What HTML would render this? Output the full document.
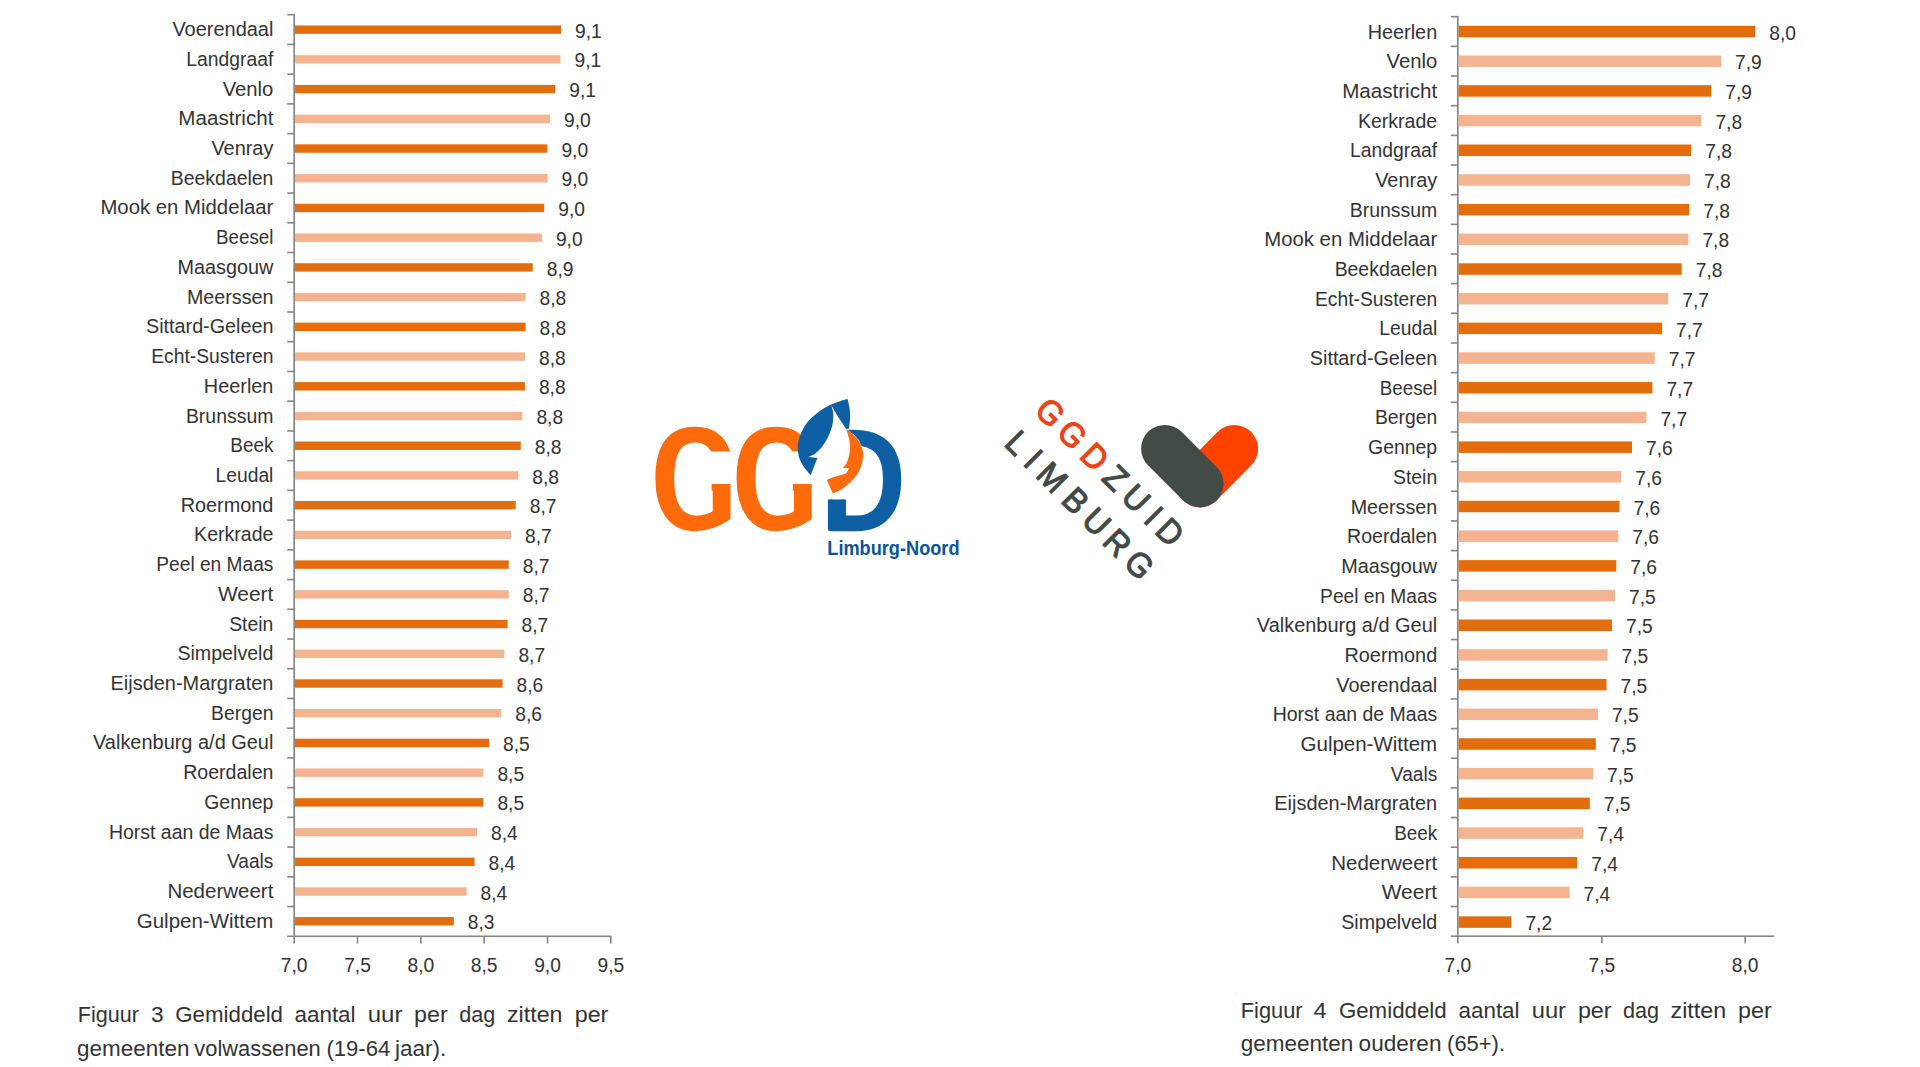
<!DOCTYPE html>
<html lang="nl"><head><meta charset="utf-8"><title>Figuur 3 en 4 - Gemiddeld aantal uur per dag zitten per gemeenten</title>
<style>
html,body{margin:0;padding:0;background:#fff;}
body{width:1920px;height:1067px;overflow:hidden;font-family:"Liberation Sans",sans-serif;}
svg{display:block;}
text{white-space:pre;}
</style></head><body>
<svg width="1920" height="1067" viewBox="0 0 1920 1067">
<rect width="1920" height="1067" fill="#ffffff"/>
<g font-family="'Liberation Sans', sans-serif" fill="#333333">
<g fill="#868686">
<rect x="293.35" y="13.9" width="1.7" height="923.2"/>
<rect x="287.2" y="935.5" width="324.4" height="1.6"/>
<rect x="287.2" y="13.9" width="7" height="1.6"/>
<rect x="287.2" y="43.63" width="7" height="1.6"/>
<rect x="287.2" y="73.36" width="7" height="1.6"/>
<rect x="287.2" y="103.09" width="7" height="1.6"/>
<rect x="287.2" y="132.82" width="7" height="1.6"/>
<rect x="287.2" y="162.55" width="7" height="1.6"/>
<rect x="287.2" y="192.27" width="7" height="1.6"/>
<rect x="287.2" y="222" width="7" height="1.6"/>
<rect x="287.2" y="251.73" width="7" height="1.6"/>
<rect x="287.2" y="281.46" width="7" height="1.6"/>
<rect x="287.2" y="311.19" width="7" height="1.6"/>
<rect x="287.2" y="340.92" width="7" height="1.6"/>
<rect x="287.2" y="370.65" width="7" height="1.6"/>
<rect x="287.2" y="400.38" width="7" height="1.6"/>
<rect x="287.2" y="430.11" width="7" height="1.6"/>
<rect x="287.2" y="459.84" width="7" height="1.6"/>
<rect x="287.2" y="489.56" width="7" height="1.6"/>
<rect x="287.2" y="519.29" width="7" height="1.6"/>
<rect x="287.2" y="549.02" width="7" height="1.6"/>
<rect x="287.2" y="578.75" width="7" height="1.6"/>
<rect x="287.2" y="608.48" width="7" height="1.6"/>
<rect x="287.2" y="638.21" width="7" height="1.6"/>
<rect x="287.2" y="667.94" width="7" height="1.6"/>
<rect x="287.2" y="697.67" width="7" height="1.6"/>
<rect x="287.2" y="727.4" width="7" height="1.6"/>
<rect x="287.2" y="757.13" width="7" height="1.6"/>
<rect x="287.2" y="786.85" width="7" height="1.6"/>
<rect x="287.2" y="816.58" width="7" height="1.6"/>
<rect x="287.2" y="846.31" width="7" height="1.6"/>
<rect x="287.2" y="876.04" width="7" height="1.6"/>
<rect x="287.2" y="905.77" width="7" height="1.6"/>
<rect x="293.4" y="936.3" width="1.6" height="7.2"/>
<rect x="356.7" y="936.3" width="1.6" height="7.2"/>
<rect x="420" y="936.3" width="1.6" height="7.2"/>
<rect x="483.3" y="936.3" width="1.6" height="7.2"/>
<rect x="546.7" y="936.3" width="1.6" height="7.2"/>
<rect x="610" y="936.3" width="1.6" height="7.2"/>
</g>
<rect x="295.05" y="25.45" width="266.05" height="8.4" fill="#E36C0C"/>
<rect x="295.05" y="55.17" width="265.45" height="8.4" fill="#F4B490"/>
<rect x="295.05" y="84.89" width="260.25" height="8.4" fill="#E36C0C"/>
<rect x="295.05" y="114.61" width="254.95" height="8.4" fill="#F4B490"/>
<rect x="295.05" y="144.33" width="252.35" height="8.4" fill="#E36C0C"/>
<rect x="295.05" y="174.05" width="252.55" height="8.4" fill="#F4B490"/>
<rect x="295.05" y="203.77" width="249.15" height="8.4" fill="#E36C0C"/>
<rect x="295.05" y="233.49" width="246.85" height="8.4" fill="#F4B490"/>
<rect x="295.05" y="263.21" width="237.7" height="8.4" fill="#E36C0C"/>
<rect x="295.05" y="292.93" width="230.55" height="8.4" fill="#F4B490"/>
<rect x="295.05" y="322.65" width="230.55" height="8.4" fill="#E36C0C"/>
<rect x="295.05" y="352.37" width="230.05" height="8.4" fill="#F4B490"/>
<rect x="295.05" y="382.09" width="229.85" height="8.4" fill="#E36C0C"/>
<rect x="295.05" y="411.81" width="227.35" height="8.4" fill="#F4B490"/>
<rect x="295.05" y="441.53" width="225.7" height="8.4" fill="#E36C0C"/>
<rect x="295.05" y="471.25" width="223.25" height="8.4" fill="#F4B490"/>
<rect x="295.05" y="500.97" width="220.65" height="8.4" fill="#E36C0C"/>
<rect x="295.05" y="530.69" width="215.95" height="8.4" fill="#F4B490"/>
<rect x="295.05" y="560.41" width="213.7" height="8.4" fill="#E36C0C"/>
<rect x="295.05" y="590.13" width="213.7" height="8.4" fill="#F4B490"/>
<rect x="295.05" y="619.85" width="212.55" height="8.4" fill="#E36C0C"/>
<rect x="295.05" y="649.57" width="209.35" height="8.4" fill="#F4B490"/>
<rect x="295.05" y="679.29" width="207.55" height="8.4" fill="#E36C0C"/>
<rect x="295.05" y="709.01" width="206.2" height="8.4" fill="#F4B490"/>
<rect x="295.05" y="738.73" width="194.05" height="8.4" fill="#E36C0C"/>
<rect x="295.05" y="768.45" width="188.35" height="8.4" fill="#F4B490"/>
<rect x="295.05" y="798.17" width="188.35" height="8.4" fill="#E36C0C"/>
<rect x="295.05" y="827.89" width="182.05" height="8.4" fill="#F4B490"/>
<rect x="295.05" y="857.61" width="179.55" height="8.4" fill="#E36C0C"/>
<rect x="295.05" y="887.33" width="171.55" height="8.4" fill="#F4B490"/>
<rect x="295.05" y="917.05" width="158.75" height="8.4" fill="#E36C0C"/>
<text x="273.4" y="36.15" text-anchor="end" textLength="101.02" lengthAdjust="spacingAndGlyphs" font-size="20.5">Voerendaal</text>
<text x="273.4" y="65.87" text-anchor="end" textLength="87.11" lengthAdjust="spacingAndGlyphs" font-size="20.5">Landgraaf</text>
<text x="273.4" y="95.59" text-anchor="end" textLength="50.7" lengthAdjust="spacingAndGlyphs" font-size="20.5">Venlo</text>
<text x="273.4" y="125.31" text-anchor="end" textLength="95.05" lengthAdjust="spacingAndGlyphs" font-size="20.5">Maastricht</text>
<text x="273.4" y="155.03" text-anchor="end" textLength="62.01" lengthAdjust="spacingAndGlyphs" font-size="20.5">Venray</text>
<text x="273.4" y="184.75" text-anchor="end" textLength="102.56" lengthAdjust="spacingAndGlyphs" font-size="20.5">Beekdaelen</text>
<text x="273.4" y="214.47" text-anchor="end" textLength="172.98" lengthAdjust="spacingAndGlyphs" font-size="20.5">Mook en Middelaar</text>
<text x="273.4" y="244.19" text-anchor="end" textLength="57.4" lengthAdjust="spacingAndGlyphs" font-size="20.5">Beesel</text>
<text x="273.4" y="273.91" text-anchor="end" textLength="95.96" lengthAdjust="spacingAndGlyphs" font-size="20.5">Maasgouw</text>
<text x="273.4" y="303.63" text-anchor="end" textLength="86.48" lengthAdjust="spacingAndGlyphs" font-size="20.5">Meerssen</text>
<text x="273.4" y="333.35" text-anchor="end" textLength="127.36" lengthAdjust="spacingAndGlyphs" font-size="20.5">Sittard-Geleen</text>
<text x="273.4" y="363.07" text-anchor="end" textLength="122.21" lengthAdjust="spacingAndGlyphs" font-size="20.5">Echt-Susteren</text>
<text x="273.4" y="392.79" text-anchor="end" textLength="69.54" lengthAdjust="spacingAndGlyphs" font-size="20.5">Heerlen</text>
<text x="273.4" y="422.51" text-anchor="end" textLength="87.48" lengthAdjust="spacingAndGlyphs" font-size="20.5">Brunssum</text>
<text x="273.4" y="452.23" text-anchor="end" textLength="43.06" lengthAdjust="spacingAndGlyphs" font-size="20.5">Beek</text>
<text x="273.4" y="481.95" text-anchor="end" textLength="57.83" lengthAdjust="spacingAndGlyphs" font-size="20.5">Leudal</text>
<text x="273.4" y="511.67" text-anchor="end" textLength="92.74" lengthAdjust="spacingAndGlyphs" font-size="20.5">Roermond</text>
<text x="273.4" y="541.39" text-anchor="end" textLength="79.29" lengthAdjust="spacingAndGlyphs" font-size="20.5">Kerkrade</text>
<text x="273.4" y="571.11" text-anchor="end" textLength="117.08" lengthAdjust="spacingAndGlyphs" font-size="20.5">Peel en Maas</text>
<text x="273.4" y="600.83" text-anchor="end" textLength="55.48" lengthAdjust="spacingAndGlyphs" font-size="20.5">Weert</text>
<text x="273.4" y="630.55" text-anchor="end" textLength="44.21" lengthAdjust="spacingAndGlyphs" font-size="20.5">Stein</text>
<text x="273.4" y="660.27" text-anchor="end" textLength="96" lengthAdjust="spacingAndGlyphs" font-size="20.5">Simpelveld</text>
<text x="273.4" y="689.99" text-anchor="end" textLength="162.9" lengthAdjust="spacingAndGlyphs" font-size="20.5">Eijsden-Margraten</text>
<text x="273.4" y="719.71" text-anchor="end" textLength="62.29" lengthAdjust="spacingAndGlyphs" font-size="20.5">Bergen</text>
<text x="273.4" y="749.43" text-anchor="end" textLength="180.35" lengthAdjust="spacingAndGlyphs" font-size="20.5">Valkenburg a/d Geul</text>
<text x="273.4" y="779.15" text-anchor="end" textLength="90.14" lengthAdjust="spacingAndGlyphs" font-size="20.5">Roerdalen</text>
<text x="273.4" y="808.87" text-anchor="end" textLength="69.17" lengthAdjust="spacingAndGlyphs" font-size="20.5">Gennep</text>
<text x="273.4" y="838.59" text-anchor="end" textLength="164.46" lengthAdjust="spacingAndGlyphs" font-size="20.5">Horst aan de Maas</text>
<text x="273.4" y="868.31" text-anchor="end" textLength="46.35" lengthAdjust="spacingAndGlyphs" font-size="20.5">Vaals</text>
<text x="273.4" y="898.03" text-anchor="end" textLength="106.02" lengthAdjust="spacingAndGlyphs" font-size="20.5">Nederweert</text>
<text x="273.4" y="927.75" text-anchor="end" textLength="136.63" lengthAdjust="spacingAndGlyphs" font-size="20.5">Gulpen-Wittem</text>
<text x="575.1" y="37.75" text-anchor="start" textLength="26.72" lengthAdjust="spacingAndGlyphs" font-size="20.5">9,1</text>
<text x="574.5" y="67.47" text-anchor="start" textLength="26.72" lengthAdjust="spacingAndGlyphs" font-size="20.5">9,1</text>
<text x="569.3" y="97.19" text-anchor="start" textLength="26.72" lengthAdjust="spacingAndGlyphs" font-size="20.5">9,1</text>
<text x="564" y="126.91" text-anchor="start" textLength="26.72" lengthAdjust="spacingAndGlyphs" font-size="20.5">9,0</text>
<text x="561.4" y="156.63" text-anchor="start" textLength="26.72" lengthAdjust="spacingAndGlyphs" font-size="20.5">9,0</text>
<text x="561.6" y="186.35" text-anchor="start" textLength="26.72" lengthAdjust="spacingAndGlyphs" font-size="20.5">9,0</text>
<text x="558.2" y="216.07" text-anchor="start" textLength="26.72" lengthAdjust="spacingAndGlyphs" font-size="20.5">9,0</text>
<text x="555.9" y="245.79" text-anchor="start" textLength="26.72" lengthAdjust="spacingAndGlyphs" font-size="20.5">9,0</text>
<text x="546.75" y="275.51" text-anchor="start" textLength="26.72" lengthAdjust="spacingAndGlyphs" font-size="20.5">8,9</text>
<text x="539.6" y="305.23" text-anchor="start" textLength="26.72" lengthAdjust="spacingAndGlyphs" font-size="20.5">8,8</text>
<text x="539.6" y="334.95" text-anchor="start" textLength="26.72" lengthAdjust="spacingAndGlyphs" font-size="20.5">8,8</text>
<text x="539.1" y="364.67" text-anchor="start" textLength="26.72" lengthAdjust="spacingAndGlyphs" font-size="20.5">8,8</text>
<text x="538.9" y="394.39" text-anchor="start" textLength="26.72" lengthAdjust="spacingAndGlyphs" font-size="20.5">8,8</text>
<text x="536.4" y="424.11" text-anchor="start" textLength="26.72" lengthAdjust="spacingAndGlyphs" font-size="20.5">8,8</text>
<text x="534.75" y="453.83" text-anchor="start" textLength="26.72" lengthAdjust="spacingAndGlyphs" font-size="20.5">8,8</text>
<text x="532.3" y="483.55" text-anchor="start" textLength="26.72" lengthAdjust="spacingAndGlyphs" font-size="20.5">8,8</text>
<text x="529.7" y="513.27" text-anchor="start" textLength="26.72" lengthAdjust="spacingAndGlyphs" font-size="20.5">8,7</text>
<text x="525" y="542.99" text-anchor="start" textLength="26.72" lengthAdjust="spacingAndGlyphs" font-size="20.5">8,7</text>
<text x="522.75" y="572.71" text-anchor="start" textLength="26.72" lengthAdjust="spacingAndGlyphs" font-size="20.5">8,7</text>
<text x="522.75" y="602.43" text-anchor="start" textLength="26.72" lengthAdjust="spacingAndGlyphs" font-size="20.5">8,7</text>
<text x="521.6" y="632.15" text-anchor="start" textLength="26.72" lengthAdjust="spacingAndGlyphs" font-size="20.5">8,7</text>
<text x="518.4" y="661.87" text-anchor="start" textLength="26.72" lengthAdjust="spacingAndGlyphs" font-size="20.5">8,7</text>
<text x="516.6" y="691.59" text-anchor="start" textLength="26.72" lengthAdjust="spacingAndGlyphs" font-size="20.5">8,6</text>
<text x="515.25" y="721.31" text-anchor="start" textLength="26.72" lengthAdjust="spacingAndGlyphs" font-size="20.5">8,6</text>
<text x="503.1" y="751.03" text-anchor="start" textLength="26.72" lengthAdjust="spacingAndGlyphs" font-size="20.5">8,5</text>
<text x="497.4" y="780.75" text-anchor="start" textLength="26.72" lengthAdjust="spacingAndGlyphs" font-size="20.5">8,5</text>
<text x="497.4" y="810.47" text-anchor="start" textLength="26.72" lengthAdjust="spacingAndGlyphs" font-size="20.5">8,5</text>
<text x="491.1" y="840.19" text-anchor="start" textLength="26.72" lengthAdjust="spacingAndGlyphs" font-size="20.5">8,4</text>
<text x="488.6" y="869.91" text-anchor="start" textLength="26.72" lengthAdjust="spacingAndGlyphs" font-size="20.5">8,4</text>
<text x="480.6" y="899.63" text-anchor="start" textLength="26.72" lengthAdjust="spacingAndGlyphs" font-size="20.5">8,4</text>
<text x="467.8" y="929.35" text-anchor="start" textLength="26.72" lengthAdjust="spacingAndGlyphs" font-size="20.5">8,3</text>
<text x="294.2" y="971.6" text-anchor="middle" textLength="26.72" lengthAdjust="spacingAndGlyphs" font-size="20.5">7,0</text>
<text x="357.5" y="971.6" text-anchor="middle" textLength="26.72" lengthAdjust="spacingAndGlyphs" font-size="20.5">7,5</text>
<text x="420.8" y="971.6" text-anchor="middle" textLength="26.72" lengthAdjust="spacingAndGlyphs" font-size="20.5">8,0</text>
<text x="484.1" y="971.6" text-anchor="middle" textLength="26.72" lengthAdjust="spacingAndGlyphs" font-size="20.5">8,5</text>
<text x="547.5" y="971.6" text-anchor="middle" textLength="26.72" lengthAdjust="spacingAndGlyphs" font-size="20.5">9,0</text>
<text x="610.8" y="971.6" text-anchor="middle" textLength="26.72" lengthAdjust="spacingAndGlyphs" font-size="20.5">9,5</text>
<g fill="#868686">
<rect x="1456.95" y="15.9" width="1.7" height="921.1"/>
<rect x="1450.8" y="935.4" width="323.4" height="1.6"/>
<rect x="1450.8" y="15.9" width="7" height="1.6"/>
<rect x="1450.8" y="45.56" width="7" height="1.6"/>
<rect x="1450.8" y="75.22" width="7" height="1.6"/>
<rect x="1450.8" y="104.88" width="7" height="1.6"/>
<rect x="1450.8" y="134.55" width="7" height="1.6"/>
<rect x="1450.8" y="164.21" width="7" height="1.6"/>
<rect x="1450.8" y="193.87" width="7" height="1.6"/>
<rect x="1450.8" y="223.53" width="7" height="1.6"/>
<rect x="1450.8" y="253.19" width="7" height="1.6"/>
<rect x="1450.8" y="282.85" width="7" height="1.6"/>
<rect x="1450.8" y="312.51" width="7" height="1.6"/>
<rect x="1450.8" y="342.17" width="7" height="1.6"/>
<rect x="1450.8" y="371.84" width="7" height="1.6"/>
<rect x="1450.8" y="401.5" width="7" height="1.6"/>
<rect x="1450.8" y="431.16" width="7" height="1.6"/>
<rect x="1450.8" y="460.82" width="7" height="1.6"/>
<rect x="1450.8" y="490.48" width="7" height="1.6"/>
<rect x="1450.8" y="520.14" width="7" height="1.6"/>
<rect x="1450.8" y="549.8" width="7" height="1.6"/>
<rect x="1450.8" y="579.46" width="7" height="1.6"/>
<rect x="1450.8" y="609.13" width="7" height="1.6"/>
<rect x="1450.8" y="638.79" width="7" height="1.6"/>
<rect x="1450.8" y="668.45" width="7" height="1.6"/>
<rect x="1450.8" y="698.11" width="7" height="1.6"/>
<rect x="1450.8" y="727.77" width="7" height="1.6"/>
<rect x="1450.8" y="757.43" width="7" height="1.6"/>
<rect x="1450.8" y="787.09" width="7" height="1.6"/>
<rect x="1450.8" y="816.75" width="7" height="1.6"/>
<rect x="1450.8" y="846.42" width="7" height="1.6"/>
<rect x="1450.8" y="876.08" width="7" height="1.6"/>
<rect x="1450.8" y="905.74" width="7" height="1.6"/>
<rect x="1457" y="936.2" width="1.6" height="7.2"/>
<rect x="1601.1" y="936.2" width="1.6" height="7.2"/>
<rect x="1744.4" y="936.2" width="1.6" height="7.2"/>
</g>
<rect x="1458.65" y="25.8" width="296.65" height="11.5" fill="#E36C0C"/>
<rect x="1458.65" y="55.48" width="262.35" height="11.5" fill="#F4B490"/>
<rect x="1458.65" y="85.17" width="252.65" height="11.5" fill="#E36C0C"/>
<rect x="1458.65" y="114.85" width="242.75" height="11.5" fill="#F4B490"/>
<rect x="1458.65" y="144.54" width="232.55" height="11.5" fill="#E36C0C"/>
<rect x="1458.65" y="174.22" width="231.35" height="11.5" fill="#F4B490"/>
<rect x="1458.65" y="203.91" width="230.55" height="11.5" fill="#E36C0C"/>
<rect x="1458.65" y="233.59" width="229.75" height="11.5" fill="#F4B490"/>
<rect x="1458.65" y="263.28" width="223.05" height="11.5" fill="#E36C0C"/>
<rect x="1458.65" y="292.96" width="209.55" height="11.5" fill="#F4B490"/>
<rect x="1458.65" y="322.65" width="203.45" height="11.5" fill="#E36C0C"/>
<rect x="1458.65" y="352.33" width="196.05" height="11.5" fill="#F4B490"/>
<rect x="1458.65" y="382.02" width="193.75" height="11.5" fill="#E36C0C"/>
<rect x="1458.65" y="411.7" width="187.75" height="11.5" fill="#F4B490"/>
<rect x="1458.65" y="441.39" width="173.35" height="11.5" fill="#E36C0C"/>
<rect x="1458.65" y="471.07" width="162.65" height="11.5" fill="#F4B490"/>
<rect x="1458.65" y="500.76" width="160.85" height="11.5" fill="#E36C0C"/>
<rect x="1458.65" y="530.44" width="159.65" height="11.5" fill="#F4B490"/>
<rect x="1458.65" y="560.13" width="157.65" height="11.5" fill="#E36C0C"/>
<rect x="1458.65" y="589.81" width="156.35" height="11.5" fill="#F4B490"/>
<rect x="1458.65" y="619.5" width="153.35" height="11.5" fill="#E36C0C"/>
<rect x="1458.65" y="649.18" width="148.95" height="11.5" fill="#F4B490"/>
<rect x="1458.65" y="678.87" width="147.85" height="11.5" fill="#E36C0C"/>
<rect x="1458.65" y="708.55" width="139.25" height="11.5" fill="#F4B490"/>
<rect x="1458.65" y="738.24" width="137.15" height="11.5" fill="#E36C0C"/>
<rect x="1458.65" y="767.92" width="134.35" height="11.5" fill="#F4B490"/>
<rect x="1458.65" y="797.61" width="131.15" height="11.5" fill="#E36C0C"/>
<rect x="1458.65" y="827.29" width="124.65" height="11.5" fill="#F4B490"/>
<rect x="1458.65" y="856.98" width="118.55" height="11.5" fill="#E36C0C"/>
<rect x="1458.65" y="886.66" width="110.95" height="11.5" fill="#F4B490"/>
<rect x="1458.65" y="916.35" width="52.75" height="11.5" fill="#E36C0C"/>
<text x="1437.2" y="38.55" text-anchor="end" textLength="69.54" lengthAdjust="spacingAndGlyphs" font-size="20.5">Heerlen</text>
<text x="1437.2" y="68.23" text-anchor="end" textLength="50.7" lengthAdjust="spacingAndGlyphs" font-size="20.5">Venlo</text>
<text x="1437.2" y="97.92" text-anchor="end" textLength="95.05" lengthAdjust="spacingAndGlyphs" font-size="20.5">Maastricht</text>
<text x="1437.2" y="127.6" text-anchor="end" textLength="79.29" lengthAdjust="spacingAndGlyphs" font-size="20.5">Kerkrade</text>
<text x="1437.2" y="157.29" text-anchor="end" textLength="87.11" lengthAdjust="spacingAndGlyphs" font-size="20.5">Landgraaf</text>
<text x="1437.2" y="186.97" text-anchor="end" textLength="62.01" lengthAdjust="spacingAndGlyphs" font-size="20.5">Venray</text>
<text x="1437.2" y="216.66" text-anchor="end" textLength="87.48" lengthAdjust="spacingAndGlyphs" font-size="20.5">Brunssum</text>
<text x="1437.2" y="246.34" text-anchor="end" textLength="172.98" lengthAdjust="spacingAndGlyphs" font-size="20.5">Mook en Middelaar</text>
<text x="1437.2" y="276.03" text-anchor="end" textLength="102.56" lengthAdjust="spacingAndGlyphs" font-size="20.5">Beekdaelen</text>
<text x="1437.2" y="305.71" text-anchor="end" textLength="122.21" lengthAdjust="spacingAndGlyphs" font-size="20.5">Echt-Susteren</text>
<text x="1437.2" y="335.4" text-anchor="end" textLength="57.83" lengthAdjust="spacingAndGlyphs" font-size="20.5">Leudal</text>
<text x="1437.2" y="365.08" text-anchor="end" textLength="127.36" lengthAdjust="spacingAndGlyphs" font-size="20.5">Sittard-Geleen</text>
<text x="1437.2" y="394.77" text-anchor="end" textLength="57.4" lengthAdjust="spacingAndGlyphs" font-size="20.5">Beesel</text>
<text x="1437.2" y="424.45" text-anchor="end" textLength="62.29" lengthAdjust="spacingAndGlyphs" font-size="20.5">Bergen</text>
<text x="1437.2" y="454.14" text-anchor="end" textLength="69.17" lengthAdjust="spacingAndGlyphs" font-size="20.5">Gennep</text>
<text x="1437.2" y="483.82" text-anchor="end" textLength="44.21" lengthAdjust="spacingAndGlyphs" font-size="20.5">Stein</text>
<text x="1437.2" y="513.51" text-anchor="end" textLength="86.48" lengthAdjust="spacingAndGlyphs" font-size="20.5">Meerssen</text>
<text x="1437.2" y="543.19" text-anchor="end" textLength="90.14" lengthAdjust="spacingAndGlyphs" font-size="20.5">Roerdalen</text>
<text x="1437.2" y="572.88" text-anchor="end" textLength="95.96" lengthAdjust="spacingAndGlyphs" font-size="20.5">Maasgouw</text>
<text x="1437.2" y="602.56" text-anchor="end" textLength="117.08" lengthAdjust="spacingAndGlyphs" font-size="20.5">Peel en Maas</text>
<text x="1437.2" y="632.25" text-anchor="end" textLength="180.35" lengthAdjust="spacingAndGlyphs" font-size="20.5">Valkenburg a/d Geul</text>
<text x="1437.2" y="661.93" text-anchor="end" textLength="92.74" lengthAdjust="spacingAndGlyphs" font-size="20.5">Roermond</text>
<text x="1437.2" y="691.62" text-anchor="end" textLength="101.02" lengthAdjust="spacingAndGlyphs" font-size="20.5">Voerendaal</text>
<text x="1437.2" y="721.3" text-anchor="end" textLength="164.46" lengthAdjust="spacingAndGlyphs" font-size="20.5">Horst aan de Maas</text>
<text x="1437.2" y="750.99" text-anchor="end" textLength="136.63" lengthAdjust="spacingAndGlyphs" font-size="20.5">Gulpen-Wittem</text>
<text x="1437.2" y="780.67" text-anchor="end" textLength="46.35" lengthAdjust="spacingAndGlyphs" font-size="20.5">Vaals</text>
<text x="1437.2" y="810.36" text-anchor="end" textLength="162.9" lengthAdjust="spacingAndGlyphs" font-size="20.5">Eijsden-Margraten</text>
<text x="1437.2" y="840.04" text-anchor="end" textLength="43.06" lengthAdjust="spacingAndGlyphs" font-size="20.5">Beek</text>
<text x="1437.2" y="869.73" text-anchor="end" textLength="106.02" lengthAdjust="spacingAndGlyphs" font-size="20.5">Nederweert</text>
<text x="1437.2" y="899.41" text-anchor="end" textLength="55.48" lengthAdjust="spacingAndGlyphs" font-size="20.5">Weert</text>
<text x="1437.2" y="929.1" text-anchor="end" textLength="96" lengthAdjust="spacingAndGlyphs" font-size="20.5">Simpelveld</text>
<text x="1769.3" y="39.65" text-anchor="start" textLength="26.72" lengthAdjust="spacingAndGlyphs" font-size="20.5">8,0</text>
<text x="1735" y="69.33" text-anchor="start" textLength="26.72" lengthAdjust="spacingAndGlyphs" font-size="20.5">7,9</text>
<text x="1725.3" y="99.02" text-anchor="start" textLength="26.72" lengthAdjust="spacingAndGlyphs" font-size="20.5">7,9</text>
<text x="1715.4" y="128.7" text-anchor="start" textLength="26.72" lengthAdjust="spacingAndGlyphs" font-size="20.5">7,8</text>
<text x="1705.2" y="158.39" text-anchor="start" textLength="26.72" lengthAdjust="spacingAndGlyphs" font-size="20.5">7,8</text>
<text x="1704" y="188.07" text-anchor="start" textLength="26.72" lengthAdjust="spacingAndGlyphs" font-size="20.5">7,8</text>
<text x="1703.2" y="217.76" text-anchor="start" textLength="26.72" lengthAdjust="spacingAndGlyphs" font-size="20.5">7,8</text>
<text x="1702.4" y="247.44" text-anchor="start" textLength="26.72" lengthAdjust="spacingAndGlyphs" font-size="20.5">7,8</text>
<text x="1695.7" y="277.13" text-anchor="start" textLength="26.72" lengthAdjust="spacingAndGlyphs" font-size="20.5">7,8</text>
<text x="1682.2" y="306.81" text-anchor="start" textLength="26.72" lengthAdjust="spacingAndGlyphs" font-size="20.5">7,7</text>
<text x="1676.1" y="336.5" text-anchor="start" textLength="26.72" lengthAdjust="spacingAndGlyphs" font-size="20.5">7,7</text>
<text x="1668.7" y="366.19" text-anchor="start" textLength="26.72" lengthAdjust="spacingAndGlyphs" font-size="20.5">7,7</text>
<text x="1666.4" y="395.87" text-anchor="start" textLength="26.72" lengthAdjust="spacingAndGlyphs" font-size="20.5">7,7</text>
<text x="1660.4" y="425.56" text-anchor="start" textLength="26.72" lengthAdjust="spacingAndGlyphs" font-size="20.5">7,7</text>
<text x="1646" y="455.24" text-anchor="start" textLength="26.72" lengthAdjust="spacingAndGlyphs" font-size="20.5">7,6</text>
<text x="1635.3" y="484.93" text-anchor="start" textLength="26.72" lengthAdjust="spacingAndGlyphs" font-size="20.5">7,6</text>
<text x="1633.5" y="514.61" text-anchor="start" textLength="26.72" lengthAdjust="spacingAndGlyphs" font-size="20.5">7,6</text>
<text x="1632.3" y="544.29" text-anchor="start" textLength="26.72" lengthAdjust="spacingAndGlyphs" font-size="20.5">7,6</text>
<text x="1630.3" y="573.98" text-anchor="start" textLength="26.72" lengthAdjust="spacingAndGlyphs" font-size="20.5">7,6</text>
<text x="1629" y="603.66" text-anchor="start" textLength="26.72" lengthAdjust="spacingAndGlyphs" font-size="20.5">7,5</text>
<text x="1626" y="633.35" text-anchor="start" textLength="26.72" lengthAdjust="spacingAndGlyphs" font-size="20.5">7,5</text>
<text x="1621.6" y="663.03" text-anchor="start" textLength="26.72" lengthAdjust="spacingAndGlyphs" font-size="20.5">7,5</text>
<text x="1620.5" y="692.72" text-anchor="start" textLength="26.72" lengthAdjust="spacingAndGlyphs" font-size="20.5">7,5</text>
<text x="1611.9" y="722.4" text-anchor="start" textLength="26.72" lengthAdjust="spacingAndGlyphs" font-size="20.5">7,5</text>
<text x="1609.8" y="752.09" text-anchor="start" textLength="26.72" lengthAdjust="spacingAndGlyphs" font-size="20.5">7,5</text>
<text x="1607" y="781.77" text-anchor="start" textLength="26.72" lengthAdjust="spacingAndGlyphs" font-size="20.5">7,5</text>
<text x="1603.8" y="811.46" text-anchor="start" textLength="26.72" lengthAdjust="spacingAndGlyphs" font-size="20.5">7,5</text>
<text x="1597.3" y="841.14" text-anchor="start" textLength="26.72" lengthAdjust="spacingAndGlyphs" font-size="20.5">7,4</text>
<text x="1591.2" y="870.83" text-anchor="start" textLength="26.72" lengthAdjust="spacingAndGlyphs" font-size="20.5">7,4</text>
<text x="1583.6" y="900.51" text-anchor="start" textLength="26.72" lengthAdjust="spacingAndGlyphs" font-size="20.5">7,4</text>
<text x="1525.4" y="930.2" text-anchor="start" textLength="26.72" lengthAdjust="spacingAndGlyphs" font-size="20.5">7,2</text>
<text x="1457.8" y="972.3" text-anchor="middle" textLength="26.72" lengthAdjust="spacingAndGlyphs" font-size="20.5">7,0</text>
<text x="1601.9" y="972.3" text-anchor="middle" textLength="26.72" lengthAdjust="spacingAndGlyphs" font-size="20.5">7,5</text>
<text x="1745.2" y="972.3" text-anchor="middle" textLength="26.72" lengthAdjust="spacingAndGlyphs" font-size="20.5">8,0</text>
<text x="77.7" y="1021.8" textLength="61.2" lengthAdjust="spacingAndGlyphs" font-size="22.2">Figuur</text>
<text x="151.1" y="1021.8" textLength="12.6" lengthAdjust="spacingAndGlyphs" font-size="22.2">3</text>
<text x="175.3" y="1021.8" textLength="107.7" lengthAdjust="spacingAndGlyphs" font-size="22.2">Gemiddeld</text>
<text x="294.6" y="1021.8" textLength="60.9" lengthAdjust="spacingAndGlyphs" font-size="22.2">aantal</text>
<text x="367.7" y="1021.8" textLength="34.7" lengthAdjust="spacingAndGlyphs" font-size="22.2">uur</text>
<text x="414" y="1021.8" textLength="33.7" lengthAdjust="spacingAndGlyphs" font-size="22.2">per</text>
<text x="459.3" y="1021.8" textLength="36.1" lengthAdjust="spacingAndGlyphs" font-size="22.2">dag</text>
<text x="507" y="1021.8" textLength="55.5" lengthAdjust="spacingAndGlyphs" font-size="22.2">zitten</text>
<text x="574.7" y="1021.8" textLength="33.7" lengthAdjust="spacingAndGlyphs" font-size="22.2">per</text>
<text x="77.1" y="1055.7" textLength="112.3" lengthAdjust="spacingAndGlyphs" font-size="22.2">gemeenten</text>
<text x="194.3" y="1055.7" textLength="126.5" lengthAdjust="spacingAndGlyphs" font-size="22.2">volwassenen</text>
<text x="326.4" y="1055.7" textLength="63.9" lengthAdjust="spacingAndGlyphs" font-size="22.2">(19-64</text>
<text x="394.9" y="1055.7" textLength="51.3" lengthAdjust="spacingAndGlyphs" font-size="22.2">jaar).</text>
<text x="1240.75" y="1017.6" textLength="61.85" lengthAdjust="spacingAndGlyphs" font-size="22.2">Figuur</text>
<text x="1313.6" y="1017.6" textLength="13.1" lengthAdjust="spacingAndGlyphs" font-size="22.2">4</text>
<text x="1338.9" y="1017.6" textLength="107.8" lengthAdjust="spacingAndGlyphs" font-size="22.2">Gemiddeld</text>
<text x="1458.6" y="1017.6" textLength="60.9" lengthAdjust="spacingAndGlyphs" font-size="22.2">aantal</text>
<text x="1531.7" y="1017.6" textLength="34.3" lengthAdjust="spacingAndGlyphs" font-size="22.2">uur</text>
<text x="1577.9" y="1017.6" textLength="33.7" lengthAdjust="spacingAndGlyphs" font-size="22.2">per</text>
<text x="1622.9" y="1017.6" textLength="36.1" lengthAdjust="spacingAndGlyphs" font-size="22.2">dag</text>
<text x="1670.6" y="1017.6" textLength="55.5" lengthAdjust="spacingAndGlyphs" font-size="22.2">zitten</text>
<text x="1738" y="1017.6" textLength="33.7" lengthAdjust="spacingAndGlyphs" font-size="22.2">per</text>
<text x="1240.75" y="1050.8" textLength="112.55" lengthAdjust="spacingAndGlyphs" font-size="22.2">gemeenten</text>
<text x="1358.6" y="1050.8" textLength="82.9" lengthAdjust="spacingAndGlyphs" font-size="22.2">ouderen</text>
<text x="1447.1" y="1050.8" textLength="57.9" lengthAdjust="spacingAndGlyphs" font-size="22.2">(65+).</text>
</g>
<g font-family="'Liberation Sans', sans-serif" font-weight="bold">
<clipPath id="dclip"><path clip-rule="evenodd" d="M640 380H920V545H640ZM820 380H847V429.4L853.6 434.2L859.4 441L862.8 449.1L863.4 456V499.6H820Z"/></clipPath>
<text clip-path="url(#dclip)" x="649.4 730.7 818.5" y="527.9 527.9 528.8" font-family="'Liberation Mono', 'Liberation Sans', monospace" font-weight="normal" font-size="146.5" stroke-width="4.4" stroke-linejoin="round" fill="#FF6A0A" stroke="#FF6A0A">GG<tspan fill="#0E5FA4" stroke="#0E5FA4">D</tspan></text>
<path d="M702 451.5H732V484H711.6V492.5H689V471.5H702Z" fill="#fff"/>
<path d="M783.3 451.5H813.3V484H792.9V492.5H770.3V471.5H783.3Z" fill="#fff"/>
<path d="M847.6 399.1C846.2 399.48 842.23 400.37 839.2 401.4C836.17 402.43 832.68 403.67 829.4 405.3C826.12 406.93 822.78 408.82 819.5 411.2C816.22 413.58 812.48 416.57 809.7 419.6C806.92 422.63 804.6 426.12 802.8 429.4C801 432.68 799.75 436.18 798.9 439.3C798.05 442.42 797.63 444.98 797.7 448.1C797.77 451.22 798.28 454.88 799.3 458C800.32 461.12 801.9 463.93 803.8 466.8C805.7 469.67 809.55 473.8 810.7 475.2L817.4 458L808.2 456.8C809.27 456.33 812.22 455.77 814.6 454C816.98 452.23 820.2 449.15 822.5 446.2C824.8 443.25 826.77 439.75 828.4 436.3C830.03 432.85 831.48 428.78 832.3 425.5C833.12 422.22 833.22 419.07 833.3 416.6C833.38 414.13 833.13 412.58 832.8 410.7C832.47 408.82 831.55 406.2 831.3 405.3C832.12 406.7 834.55 410.98 836.2 413.7C837.85 416.42 839.55 419.07 841.2 421.6C842.85 424.13 845.28 427.68 846.1 428.9L849 428.5C849.17 427.02 849.87 422.72 850 419.6C850.13 416.48 850.2 413.22 849.8 409.8C849.4 406.38 847.97 400.88 847.6 399.1Z" fill="#0E5FA4"/>
<path d="M846.1 428.9C847.25 429.82 850.87 432.35 853 434.4C855.13 436.45 857.35 438.75 858.9 441.2C860.45 443.65 861.62 446.63 862.3 449.1C862.98 451.57 863.17 453.22 863 456C862.83 458.78 862.32 462.68 861.3 465.8C860.28 468.92 858.78 471.9 856.9 474.7C855.02 477.5 852.62 480.13 850 482.6C847.38 485.07 844.07 487.7 841.2 489.5C838.33 491.3 834.2 492.75 832.8 493.4L826.9 480.1C827.97 479.62 830.75 478.1 833.3 477.2C835.85 476.3 839.98 475.45 842.2 474.7C844.42 473.95 845.47 473.77 846.6 472.7C847.73 471.63 848.6 469.03 849 468.3L842.2 467.6C842.85 466.98 844.97 465.83 846.1 463.9C847.23 461.97 848.35 458.78 849 456C849.65 453.22 850 450.15 850 447.2C850 444.25 849.65 441.35 849 438.3C848.35 435.25 846.58 430.47 846.1 428.9Z" fill="#FF6A0A"/>
<text x="827.3" y="554.8" font-size="19.6" textLength="132.2" lengthAdjust="spacingAndGlyphs" fill="#0A5394">Limburg-Noord</text>
</g>
<g stroke-linecap="round" stroke-width="47.4" fill="none">
<path d="M1234.4 448.6L1199.9 483.7" stroke="#FF4200"/>
<path d="M1164.8 448.6L1199.9 483.7" stroke="#434B47"/>
</g>
<g transform="rotate(45) scale(0.94 1)" font-family="'Liberation Sans', sans-serif" font-size="34" fill="#434B47" stroke="#434B47" stroke-width="1.2" stroke-linejoin="round">
<text x="1087.19 1120.38 1154.8 1180.85 1188.54 1217.3 1251.23 1267.99" y="-439.3"><tspan fill="#EE4319" stroke="#EE4319">GGD</tspan> ZUID</text>
<text x="1089.08 1117.83 1136.37 1174.33 1205.38 1236.69 1268.68" y="-394.7">LIMBURG</text>
</g>
</svg>
</body></html>
